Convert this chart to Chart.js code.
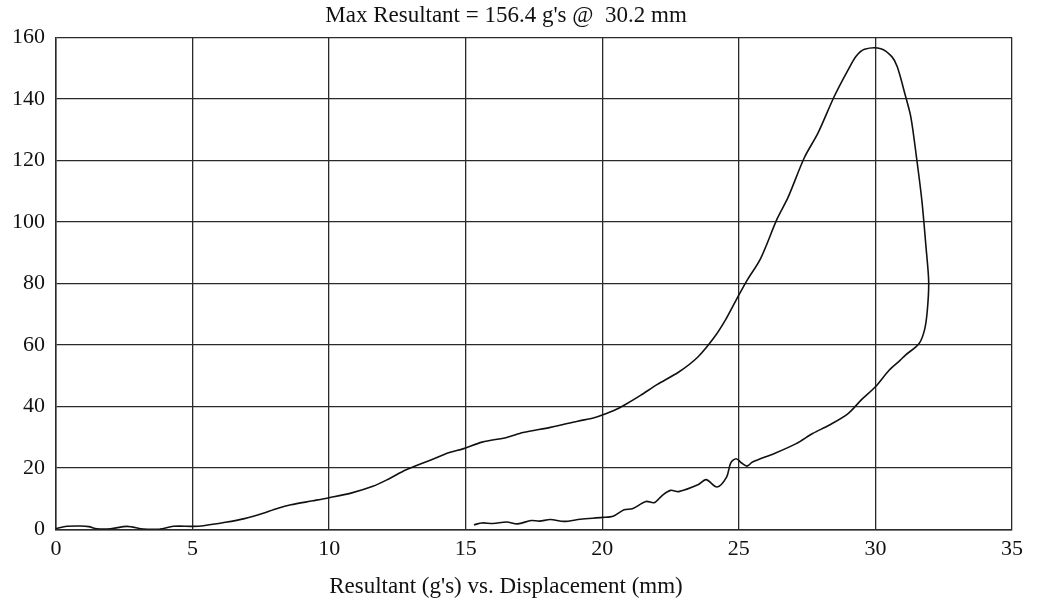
<!DOCTYPE html>
<html>
<head>
<meta charset="utf-8">
<script src="https://cdn.jsdelivr.net/npm/chart.js@4"></script>
<style>
    body { margin: 0; background: #fff; }
</style>
</head>
<body>
<canvas id="myChart" width="1037" height="605"></canvas>
<script>
    // displacement (mm) and resultant (g's), in time order: loading up to the peak, then unloading back
    var displacement = [0, 0.4, 0.9, 1.2, 1.5, 2.0, 2.6, 3.2, 3.8, 4.3, 5.0, 5.4, 6.2, 6.9, 7.5, 8.1, 8.6, 9.4, 10.0, 10.8,
        11.6, 12.2, 12.8, 13.7, 14.4, 14.9, 15.6, 16.5, 17.1, 18.1, 19.1, 19.7, 20.0, 20.5, 20.8, 21.4, 22.0, 22.8, 23.5, 24.1,
        24.5, 24.9, 25.3, 25.8, 26.4, 26.8, 27.4, 27.9, 28.5, 29.0, 29.3, 29.6, 30.2, 30.6, 30.8, 31.1, 31.3, 31.5, 31.7, 31.85,
        31.95, 31.9, 31.8, 31.6, 31.1, 30.9, 30.5, 30.0, 29.5, 29.0, 28.3, 27.7, 27.1, 26.3, 25.5, 25.3, 25.1, 24.9, 24.7, 24.55,
        24.2, 23.8, 23.5, 22.8, 22.5, 22.2, 21.9, 21.6, 21.1, 20.8, 20.4, 20.0, 19.2, 18.6, 18.1, 17.7, 17.4, 16.9, 16.5, 16.0,
        15.6, 15.3];
    var resultant = [0.3, 1.0, 1.1, 0.9, 0.2, 0.2, 1.0, 0.1, 0.1, 1.0, 1.0, 1.2, 2.3, 3.5, 5.0, 6.8, 8.0, 9.3, 10.3, 11.8,
        14.0, 16.5, 19.3, 22.5, 25.0, 26.2, 28.4, 29.9, 31.5, 33.2, 35.2, 36.3, 37.2, 39.0, 40.4, 43.6, 47.1, 51.2, 56.1, 62.5,
        68.0, 74.6, 81.0, 88.2, 101.0, 108.0, 121.0, 129.0, 141.0, 149.5, 154.0, 156.2, 156.4, 153.8, 150.5, 141.0, 134.0, 121.3, 107.0, 92.0,
        80.6, 71.3, 65.0, 60.5, 56.7, 55.0, 51.8, 46.4, 42.3, 37.7, 33.9, 31.2, 27.9, 24.7, 21.9, 20.6, 21.6, 23.0, 21.6, 17.0,
        13.8, 16.2, 14.5, 12.3, 12.7, 11.1, 8.7, 9.1, 6.7, 6.4, 4.3, 3.9, 3.3, 2.6, 3.2, 2.7, 2.9, 1.8, 2.4, 1.9,
        2.1, 1.5];

    var xTicks = [0, 5, 10, 15, 20, 25, 30, 35];
    var yTicks = [0, 20, 40, 60, 80, 100, 120, 140, 160];

    var titleText = "Max Resultant = 156.4 g's @  30.2 mm";
    var xTitleText = "Resultant (g's) vs. Displacement (mm)";

    var points = [];
    for (i = 0; i < displacement.length; i++) {
        points.push({ x: displacement[i], y: resultant[i] });
    }

    var serif = "'Liberation Serif', 'Times New Roman', serif";
    var gridColor = '#2a2a2a';

    var ctx = document.getElementById('myChart').getContext('2d');

    var myChart = new Chart(ctx, {
        type: 'scatter',
        data: {
            datasets: [
                {
                    label: 'Resultant',
                    data: points,
                    showLine: true,
                    borderColor: '#111',
                    backgroundColor: '#111',
                    borderWidth: 1.6,
                    pointRadius: 0,
                    tension: 0.3
                }
            ]
        },
        options: {
            responsive: false,
            animation: false,
            layout: {
                padding: { left: 0, right: 25, top: 0, bottom: 0 }
            },
            plugins: {
                legend: { display: false },
                tooltip: { enabled: false },
                title: {
                    display: true,
                    text: titleText,
                    color: '#111',
                    font: { family: serif, size: 23, weight: 'normal' },
                    padding: { top: 2, bottom: 8 }
                },
                subtitle: {
                    display: true,
                    position: 'bottom',
                    text: xTitleText,
                    color: '#111',
                    font: { family: serif, size: 23, weight: 'normal' },
                    padding: { top: 12, bottom: 4 }
                }
            },
            scales: {
                x: {
                    type: 'linear',
                    min: 0,
                    max: 35,
                    afterBuildTicks: function (scale) {
                        scale.ticks = xTicks.map(function (v) { return { value: v }; });
                    },
                    afterFit: function (scale) {
                        scale.height = 32;
                    },
                    grid: { color: gridColor, lineWidth: 1.3, drawTicks: false },
                    border: { color: gridColor, width: 1.5 },
                    ticks: {
                        color: '#111',
                        padding: 7,
                        maxRotation: 0,
                        font: { family: serif, size: 22 }
                    }
                },
                y: {
                    type: 'linear',
                    min: 0,
                    max: 160,
                    afterBuildTicks: function (scale) {
                        scale.ticks = yTicks.map(function (v) { return { value: v }; });
                    },
                    afterFit: function (scale) {
                        scale.width = 56;
                    },
                    grid: { color: gridColor, lineWidth: 1.3, drawTicks: false },
                    border: { color: gridColor, width: 1.5 },
                    ticks: {
                        color: '#111',
                        padding: 11,
                        font: { family: serif, size: 22 }
                    }
                }
            }
        }
    });
</script>
</body>
</html>
